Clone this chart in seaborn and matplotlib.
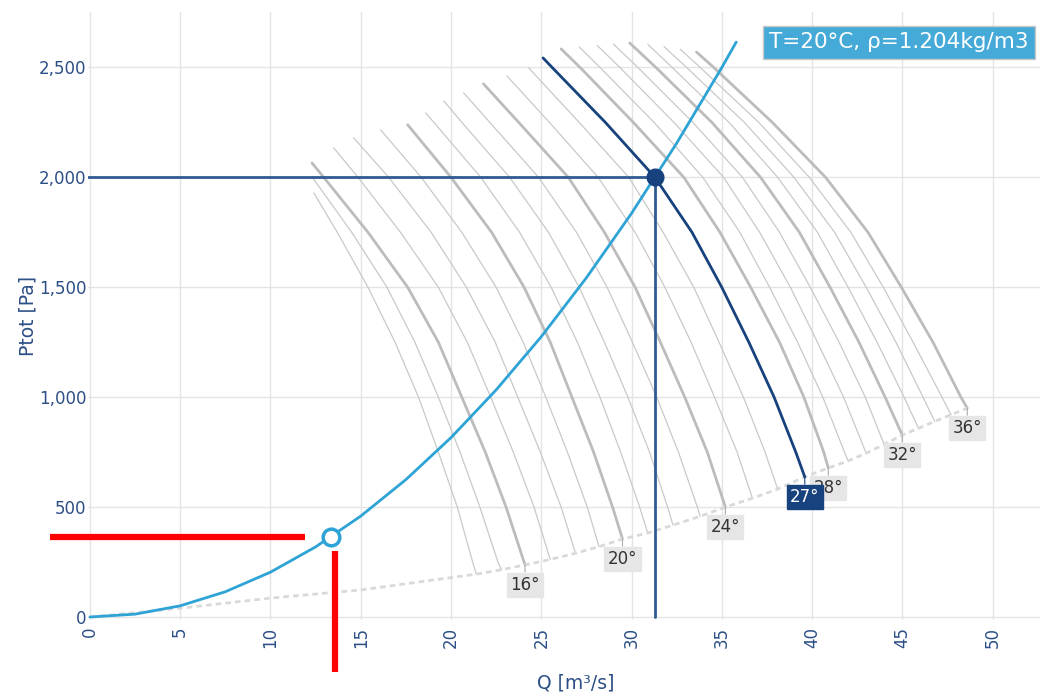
import matplotlib
matplotlib.use('Agg')
import matplotlib.pyplot as plt
import seaborn as sns
import numpy as np
import pandas as pd
from matplotlib.ticker import FuncFormatter, MultipleLocator

nan = np.nan

# blade angle family of fan curves
angles = list(range(14, 37))
top_q = [12.4, 12.3, 12.3, 13.5, 14.6, 16.1, 17.6, 18.6, 19.6, 20.7, 21.8, 23.1,
         24.3, 25.1, 26.1, 27.1, 28.1, 29.0, 29.9, 30.9, 31.8, 32.7, 33.6]
top_p = [1929, 2002, 2065, 2134, 2180, 2216, 2239, 2293, 2348, 2384, 2425, 2461,
         2498, 2543, 2584, 2593, 2600, 2606, 2611, 2605, 2595, 2583, 2570]
bot_q = [21.4, 22.8, 24.1, 25.5, 26.9, 28.2, 29.5, 30.9, 32.3, 33.8, 35.2, 36.7,
         38.1, 39.6, 40.9, 42.0, 43.0, 44.0, 45.0, 45.9, 46.8, 47.7, 48.6]
bot_p = [195, 215, 237, 262, 290, 320, 355, 382, 418, 458, 500, 540,
         582, 637, 678, 710, 745, 785, 828, 858, 890, 920, 950]

# Q of each curve where it crosses a pressure level
levels = [2500, 2250, 2000, 1750, 1500, 1250, 1000, 750, 500, 250]
q_2500 = [nan] * 13 + [25.6, 27.15, 28.25, 29.35, 30.35, 31.35, 32.25, 33.05, 33.8, 34.55]
q_2250 = [nan] * 7 + [19.05, 20.6, 22.15, 23.75, 25.45, 27.1, 28.55, 30.1, 31.25, 32.35,
                      33.4, 34.45, 35.4, 36.25, 37.05, 37.8]
q_2000 = [nan, nan, 12.95, 14.85, 16.55, 18.35, 20.0, 21.65, 23.25, 24.85, 26.5, 28.15,
          29.85, 31.3, 32.9, 33.95, 35.1, 36.15, 37.15, 38.1, 39.0, 39.85, 40.75]
q_1750 = [13.7, 14.5, 15.4, 17.2, 18.9, 20.6, 22.25, 23.8, 25.4, 26.95, 28.5, 30.2,
          31.75, 33.35, 34.9, 36.0, 37.1, 38.2, 39.3, 40.3, 41.25, 42.15, 43.1]
q_1500 = [15.4, 16.45, 17.6, 19.3, 20.85, 22.5, 24.05, 25.55, 27.1, 28.65, 30.2, 31.85,
          33.45, 35.0, 36.6, 37.65, 38.8, 39.9, 41.0, 42.0, 43.0, 43.95, 44.95]
q_1250 = [16.9, 18.0, 19.3, 20.9, 22.45, 24.0, 25.5, 27.0, 28.5, 30.05, 31.6, 33.3,
          34.85, 36.5, 38.2, 39.2, 40.3, 41.5, 42.6, 43.6, 44.65, 45.6, 46.7]
q_1000 = [18.2, 19.3, 20.6, 22.2, 23.7, 25.25, 26.7, 28.25, 29.8, 31.4, 32.95, 34.6,
          36.2, 37.9, 39.55, 40.6, 41.75, 42.95, 44.05, 45.1, 46.15, 47.2, 48.25]
q_750 = [19.3, 20.5, 21.9, 23.45, 24.95, 26.45, 27.9, 29.4, 31.0, 32.6, 34.2, 35.85,
         37.4, 39.1, 40.65, 41.8] + [nan] * 7
q_500 = [20.35, 21.6, 23.05, 24.6, 26.1, 27.55, 28.95, 30.45, 32.0, 33.65] + [nan] * 13
q_250 = [21.2, 22.6] + [nan] * 21
q_levels = [q_2500, q_2250, q_2000, q_1750, q_1500, q_1250, q_1000, q_750, q_500, q_250]

thick_angles = [16, 20, 24, 28, 32, 36]
sel_angle = 27

# lower limit line
low_q = [0, 5, 10, 15]
low_p = [0, 40, 86, 123]

# system curve
sys_q = [0, 2.5, 5, 7.5, 10, 12.5, 15, 17.5, 20, 22.5, 25, 27.5, 30, 32.5, 35, 35.8]
sys_p = [0, 13, 51, 115, 204, 319, 459, 625, 816, 1033, 1275, 1543, 1836, 2155, 2499, 2615]

op_q, op_p = 31.3, 2000
design_q, design_p = 13.35, 364
red_h_q = [-2.2, 11.9]
red_v_p = [300, -250]
red_v_q = 13.6

info_text = 'T=20°C, ρ=1.204kg/m3'

rows = []
for i, a in enumerate(angles):
    pts = [(top_q[i], top_p[i])]
    for lv, qs in zip(levels, q_levels):
        if not np.isnan(qs[i]) and bot_p[i] < lv < top_p[i]:
            pts.append((qs[i], lv))
    pts.append((bot_q[i], bot_p[i]))
    for q, p in pts:
        rows.append({'angle': a, 'Q': q, 'P': p})
curves = pd.DataFrame(rows)
thin = curves[~curves['angle'].isin(thick_angles + [sel_angle])]
thick = curves[curves['angle'].isin(thick_angles)]
sel = curves[curves['angle'] == sel_angle]

sns.set_theme(style='white')
plt.rcParams['font.family'] = ['DejaVu Sans']
txt_col = '#2c4f86'

fig = plt.figure(figsize=(10.44, 6.96), dpi=100)
ax = fig.add_axes([88 / 1044, 1 - 620 / 696, 952 / 1044, 608 / 696])
ax.set_xlim(-0.11, 52.63)
ax.set_ylim(-13.6, 2752)
ax.xaxis.set_major_locator(MultipleLocator(5))
ax.yaxis.set_major_locator(MultipleLocator(500))
ax.grid(True, color='#e4e4e4', lw=1.0)
ax.set_axisbelow(True)
for s in ax.spines.values():
    s.set_visible(False)

sns.lineplot(data=thin, x='Q', y='P', units='angle', estimator=None,
             sort=False, color='#c9c9c9', lw=0.9, ax=ax)
sns.lineplot(data=thick, x='Q', y='P', units='angle', estimator=None,
             sort=False, color='#bcbcbc', lw=2.0, ax=ax)
sns.lineplot(x=low_q + bot_q, y=low_p + bot_p, sort=False, color='#d9d9d9', lw=2.0,
             dashes=(2, 1.5), ax=ax)

ax.plot([ax.get_xlim()[0], op_q], [op_p, op_p], color='#2f5b91', lw=2.0, zorder=4)
ax.plot([op_q, op_q], [op_p, 0], color='#2f5b91', lw=2.0, zorder=4)
sns.lineplot(data=sel, x='Q', y='P', sort=False, estimator=None, color='#17427d', lw=2.0,
             ax=ax, zorder=5)
sns.lineplot(x=sys_q, y=sys_p, sort=False, color='#2ea3d5', lw=2.0, ax=ax, zorder=6)
ax.plot(op_q, op_p, 'o', color='#17427d', ms=12, zorder=7)
ax.plot(design_q, design_p, 'o', mfc='white', mec='#2ea3d5', mew=2.5, ms=12, zorder=7)

# red pointer lines
ax.plot(red_h_q, [design_p, design_p], color='#ff0000', lw=4.5, clip_on=False,
        solid_capstyle='butt', zorder=8)
ax.plot([red_v_q, red_v_q], red_v_p, color='#ff0000', lw=4.5, clip_on=False,
        solid_capstyle='butt', zorder=8)

# angle labels
for a in thick_angles:
    i = angles.index(a)
    ax.annotate(f'{a}°', xy=(bot_q[i], bot_p[i]), xytext=(0, -20), textcoords='offset pixels',
                ha='center', va='center', fontsize=12, color='#333333',
                bbox=dict(boxstyle='square,pad=0.2', fc='#e6e6e6', ec='#e6e6e6'),
                arrowprops=dict(arrowstyle='-', color='#aaaaaa', lw=0.8, shrinkA=0, shrinkB=0),
                zorder=9)
i = angles.index(sel_angle)
ax.annotate(f'{sel_angle}°', xy=(bot_q[i], bot_p[i]), xytext=(0, -20), textcoords='offset pixels',
            ha='center', va='center', fontsize=12, color='white',
            bbox=dict(boxstyle='square,pad=0.2', fc='#17427d', ec='#17427d'),
            arrowprops=dict(arrowstyle='-', color='#17427d', lw=0.8, shrinkA=0, shrinkB=0),
            zorder=10)

ax.text(0.9884, 0.967, info_text, transform=ax.transAxes, ha='right', va='top',
        fontsize=15.5, color='white', zorder=11,
        bbox=dict(boxstyle='square,pad=0.3', fc='#45aad8', ec='#c8c8c8', lw=1))

ax.yaxis.set_major_formatter(FuncFormatter(lambda v, _: f'{int(v):,}'))
ax.tick_params(axis='both', length=0, labelsize=12, labelcolor=txt_col)
ax.tick_params(axis='y', pad=1)
ax.tick_params(axis='x', pad=5, labelrotation=90)
ax.set_xlabel('Q [m³/s]', fontsize=13.5, color=txt_col)
ax.set_ylabel('Ptot [Pa]', fontsize=13.5, color=txt_col)
ax.xaxis.set_label_coords(0.512, -0.088)
ax.yaxis.set_label_coords(-0.053, 0.5)

fig.savefig('out.png', dpi=100)
